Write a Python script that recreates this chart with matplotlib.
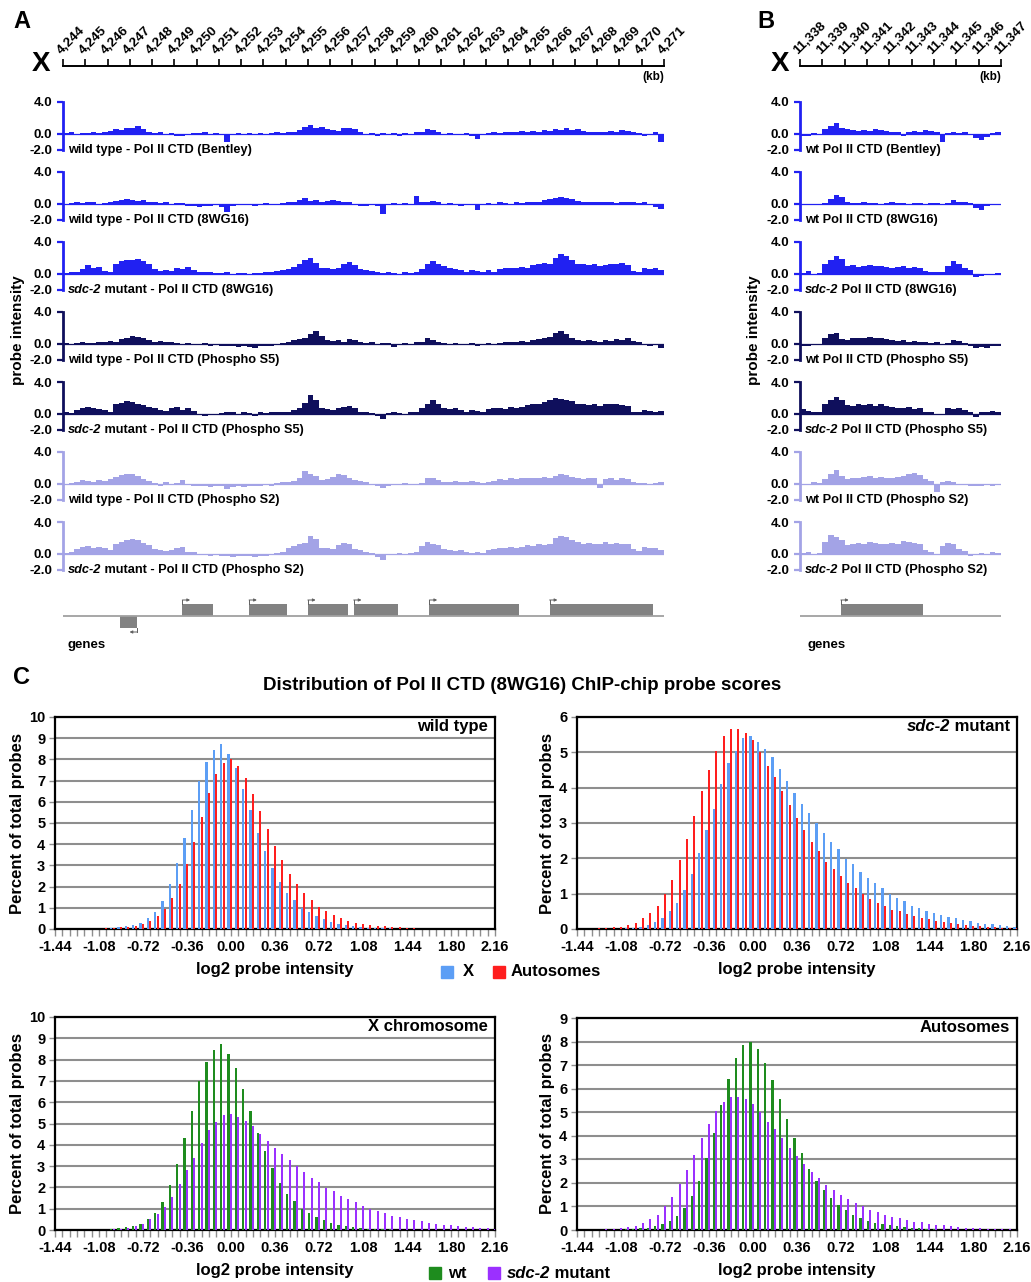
import numpy as np
import matplotlib
matplotlib.use("Agg")
import matplotlib.pyplot as plt
import matplotlib.transforms as mtransforms
from matplotlib.patches import Rectangle

# ---------------- data ----------------
# panel A : X chromosome 4,244 - 4,271 kb, one value per 0.25 kb
a_ticks = list(range(4244, 4272))
b_ticks = list(range(11338, 11348))
track_step = 0.25

a_wt_bentley = [0.1, 0.2, 0.0, 0.15, 0.1, 0.2, 0.1, 0.25,
                0.4, 0.6, 0.5, 0.8, 0.7, 1.0, 0.6,
                0.3, 0.1, 0.2, 0.0, 0.15, -0.2, -0.3, -0.1, 0.1,
                0.1, 0.2, -0.1, 0.1, 0.0, -1.0,
                -0.1, 0.1, 0.0, 0.15, -0.1, 0.1, 0.0, 0.1, 0.2, 0.1, 0.2, 0.3,
                0.5, 0.9, 1.1, 0.8, 0.9, 0.6, 0.5, 0.4, 0.7, 0.8, 0.6, 0.3,
                0.0, 0.1, -0.2, 0.1, 0.0, 0.15, -0.3, 0.1, 0.0, 0.2,
                0.3, 0.6, 0.5, 0.2,
                0.0, 0.1, -0.1, 0.0, 0.1, -0.3, -0.6, 0.0,
                0.1, 0.2, 0.1, 0.3, 0.2, 0.3, 0.4, 0.3, 0.4, 0.3,
                0.5, 0.4, 0.6, 0.5, 0.8, 0.5, 0.6, 0.4, 0.3, 0.2,
                0.3, 0.2, 0.4, 0.3, 0.5, 0.4, 0.3, 0.1,
                -0.3, -0.1, 0.2, -1.0]
a_wt_8wg16 = [0.0, 0.1, 0.2, 0.1, 0.3, 0.2, -0.1, 0.1,
              0.3, 0.4, 0.5, 0.6, 0.5, 0.4, 0.5, 0.3,
              0.2, 0.1, 0.2, 0.0, 0.1, 0.1,
              -0.2, -0.3, -0.4, -0.2, -0.3, -0.1, -0.4, -1.0,
              -0.2, -0.1, 0.0, -0.1, -0.2, 0.0, 0.1, -0.1, 0.0, 0.1,
              0.2, 0.3, 0.5, 0.7, 0.4, 0.5, 0.3, 0.4, 0.5, 0.4, 0.3, 0.2,
              0.0, -0.3, -0.2, -0.1, -0.2, -1.2, 0.0,
              0.1, 0.0, 0.1, 0.0, 1.0,
              0.3, 0.2, 0.4, 0.2, 0.0, 0.1,
              0.0, -0.2, 0.0, -0.1, -0.7, 0.0,
              0.1, 0.0, 0.2, 0.1, 0.0, 0.2, 0.1, 0.2, 0.3, 0.2,
              0.5, 0.6, 0.8, 0.9, 0.7, 0.6,
              0.4, 0.3, 0.2, 0.3, 0.2, 0.3, 0.2, 0.1, 0.3, 0.2, 0.3, 0.1, 0.2, 0.0,
              -0.4, -0.6]
a_sdc2_8wg16 = [0.1, 0.3, 0.2, 0.6, 1.1, 0.8, 0.9, 0.4, 0.3,
                1.3, 1.6, 1.7, 1.8, 1.9, 1.6, 1.3,
                0.6, 0.4, 0.5, 0.4, 0.8, 0.6, 0.9, 0.5,
                0.3, 0.2, 0.3, 0.1,
                0.1, 0.2, 0.0, 0.1, 0.1, 0.0, 0.1, 0.1,
                0.3, 0.2, 0.4, 0.5, 0.6,
                0.9, 1.3, 1.8, 2.0, 1.4,
                0.8, 0.7, 0.6, 0.8, 1.3, 1.5, 1.1, 0.6, 0.5, 0.4,
                0.2, 0.1, 0.2, 0.1, 0.0, 0.2, 0.1, 0.3,
                0.6, 1.2, 1.6, 1.3, 1.0, 0.7, 0.6, 0.5,
                0.3, 0.5, 0.4, 0.2, 0.5, 0.3,
                0.6, 0.7, 0.8, 0.7, 0.9, 0.8,
                1.1, 1.2, 1.4, 1.3, 2.0, 2.5, 2.3, 1.8,
                1.3, 1.2, 1.1, 1.2, 1.0, 1.1, 1.3, 1.2, 1.4, 1.1,
                0.4, 0.3, 0.8, 0.6, 0.7, 0.5]
a_wt_s5 = [0.1, 0.0, 0.1, 0.2, 0.1, 0.1,
           0.3, 0.2, 0.4, 0.3,
           0.6, 0.8, 1.0, 0.9, 0.7, 0.5,
           0.3, 0.4, 0.2, 0.3,
           0.1, 0.0, 0.1, -0.1, 0.0, 0.1, -0.2, 0.0,
           -0.2, -0.3, -0.2, -0.4, -0.3, -0.4, -0.5, -0.3, -0.2, -0.3, 0.0, 0.1,
           0.3, 0.5, 0.6, 0.8, 1.3, 1.6, 1.0,
           0.5, 0.4, 0.5, 0.3, 0.6, 0.5, 0.3,
           0.1, 0.2, 0.0, 0.1, 0.1, -0.4, 0.0, 0.1, 0.0, 0.2,
           0.3, 0.7, 0.5, 0.2,
           0.1, 0.0, 0.1, -0.1, 0.0, 0.1, -0.2, 0.0, 0.1, 0.0, 0.1, 0.2,
           0.3, 0.2, 0.4, 0.3, 0.5, 0.6, 0.7, 0.9,
           1.4, 1.6, 1.2, 0.8,
           0.5, 0.4, 0.5, 0.4, 0.3, 0.5, 0.4, 0.6, 0.5, 0.7, 0.4, 0.3,
           -0.1, -0.2, 0.0, -0.5]
a_sdc2_s5 = [0.2, 0.1, 0.5, 0.8, 0.9, 0.7, 0.6, 0.5, 0.3,
             1.2, 1.4, 1.6, 1.5, 1.3, 1.1, 0.9,
             0.8, 0.5, 0.4, 0.7, 0.9, 0.5, 0.8, 0.4,
             -0.1, -0.2, 0.0, -0.1,
             0.1, 0.3, 0.2, -0.1, 0.2, 0.1, -0.3, 0.2, 0.1, 0.2,
             0.2, 0.3, 0.3, 0.5,
             0.8, 1.4, 2.4, 1.8,
             0.8, 0.6, 0.5, 0.7, 0.9, 1.0, 0.8, 0.3, 0.2, 0.1,
             -0.3, -0.6, 0.1, 0.2, 0.1, 0.0, 0.2, 0.3,
             0.8, 1.3, 1.7, 1.2, 0.8, 0.6, 0.7, 0.5,
             0.3, 0.5, 0.4, 0.3,
             0.6, 0.7, 0.8, 0.6, 0.9, 0.7,
             0.9, 1.1, 1.3, 1.2,
             1.5, 1.7, 2.0, 1.9, 1.8, 1.6,
             1.3, 1.2, 1.1, 1.2, 1.0, 1.3, 1.2, 1.3, 1.1, 1.0,
             0.3, 0.2, 0.5, 0.4, 0.3, 0.4]
a_wt_s2 = [0.0, 0.1, 0.3, 0.5, 0.4, 0.3, 0.5, 0.4,
           0.6, 0.9, 1.1, 1.3, 1.2, 1.0, 0.6, 0.4,
           0.1, -0.2, 0.2, 0.0, 0.1, 0.5,
           -0.1, -0.2, -0.3, -0.2, -0.4, -0.3, -0.2, -0.6,
           -0.4, -0.3, -0.4, -0.2, -0.3, -0.2, -0.1, -0.2,
           0.1, 0.2, 0.3, 0.4,
           0.8, 1.6, 1.3, 1.0, 0.5, 0.6,
           0.9, 1.3, 1.1, 0.8, 0.5, 0.4, 0.2, 0.0,
           -0.3, -0.5, -0.2, -0.1,
           0.0, 0.1, 0.0, 0.0, 0.1, 0.7, 0.8, 0.5,
           0.3, 0.2, 0.4, 0.3, 0.2, 0.4, 0.3, 0.1, 0.3, 0.4,
           0.6, 0.5, 0.7, 0.6, 0.7, 0.8, 0.7, 0.8, 0.9, 0.8,
           1.0, 1.2, 1.1, 0.9,
           0.7, 0.6, 0.8, 0.7, -0.5, 0.6, 0.7, 0.5, 0.8, 0.6, 0.3, 0.1,
           0.1, 0.0, 0.1, 0.2]
a_sdc2_s2 = [0.1, 0.2, 0.6, 0.9, 1.0, 0.8, 0.9, 0.7, 0.5,
             1.2, 1.5, 1.8, 1.9, 1.7, 1.4, 1.1,
             0.6, 0.5, 0.4, 0.5, 0.8, 0.9, 0.3, 0.2,
             -0.1, 0.0, -0.2, -0.1,
             -0.2, -0.3, -0.4, -0.3, -0.2, -0.3, -0.4, -0.2, -0.3, -0.1,
             0.1, 0.2, 0.8, 1.0, 1.3, 1.4, 2.3, 1.9,
             0.8, 0.7, 0.6, 1.1, 1.4, 1.2,
             0.6, 0.5, 0.3, 0.1, -0.4, -0.8,
             0.0, -0.1, 0.1, 0.0, 0.1, 0.2,
             1.0, 1.5, 1.3, 1.1, 0.6, 0.5, 0.4, 0.5,
             0.2, 0.1, 0.3, 0.1,
             0.5, 0.6, 0.8, 0.7, 0.9, 0.8,
             0.9, 1.1, 1.0, 1.2, 1.1, 1.3,
             2.0, 2.3, 2.1, 1.8,
             1.5, 1.3, 1.4, 1.2, 1.3, 1.5, 1.2, 1.4, 1.3, 1.2,
             0.6, 0.4, 0.9, 0.7, 0.8, 0.5]

# panel B : X chromosome 11,338 - 11,347 kb
b_wt_bentley = [-0.2, -0.3, 0.1, 0.0, 0.6, 1.0, 1.4, 0.8, 0.6, 0.5, 0.4, 0.5,
                0.4, 0.6, 0.5, 0.4, 0.3, 0.2, -0.2, 0.3, 0.4, 0.3, 0.5, 0.4,
                0.2, -1.0, 0.1, 0.2, 0.1, 0.2, 0.0, -0.5, -0.8, -0.4, 0.1, 0.3]
b_wt_8wg16 = [0.0, -0.1, -0.1, 0.0, 0.1, 0.6, 1.1, 0.9,
              0.2, 0.1, 0.1, 0.2, 0.1, 0.1, 0.0, 0.1, 0.2, 0.1, 0.1, 0.0,
              0.1, 0.1, 0.0, 0.1, 0.1, 0.0, 0.1, 0.5, 0.3, 0.2, 0.1,
              -0.5, -0.7, -0.3, -0.1, 0.0]
b_sdc2_8wg16 = [0.1, 0.4, 0.0, 0.1, 1.2, 1.8, 2.2, 1.9,
                1.0, 1.1, 0.9, 1.0, 1.1, 1.0, 1.0, 0.9, 0.8, 0.9, 1.0, 0.8,
                0.9, 0.7, 0.4, 0.3, 0.2, 0.3, 1.0, 1.6, 1.2, 0.7, 0.5,
                -0.4, -0.2, 0.0, -0.1, 0.1]
b_wt_s5 = [-0.2, -0.3, -0.1, 0.0, 0.8, 1.2, 1.4, 0.6, 0.5,
           0.7, 0.8, 0.7, 0.9, 0.8, 0.7, 0.6, 0.5, 0.4, 0.5, 0.3, 0.4, 0.3,
           0.2, 0.1, 0.2, -0.1, 0.1, 0.5, 0.4,
           0.1, -0.3, -0.5, -0.4, -0.5, -0.3, -0.2]
b_sdc2_s5 = [0.6, 0.4, 0.3, 0.2, 1.2, 1.7, 2.1, 1.8,
             1.1, 1.0, 1.2, 1.1, 1.3, 1.0, 1.2, 1.0, 0.9, 0.8, 0.7, 0.9, 0.6, 0.7,
             0.3, 0.2, -0.1, 0.0, 0.8, 0.6, 0.7, 0.5, 0.2, -0.4,
             0.3, 0.2, 0.4, 0.3]
b_wt_s2 = [-0.1, 0.0, 0.2, 0.1, 0.6, 1.2, 1.8, 1.0,
           0.6, 0.7, 0.8, 0.9, 1.0, 0.8, 0.9, 0.7, 0.8, 0.9, 1.0, 1.2, 1.4, 1.1,
           0.6, 0.4, -1.0, 0.2, 0.4, 0.3,
           0.0, -0.1, -0.2, -0.3, -0.2, -0.1, -0.2, -0.1]
b_sdc2_s2 = [0.1, 0.2, 0.0, 0.1, 1.5, 2.4, 2.1, 1.7,
             1.1, 1.2, 1.4, 1.3, 1.5, 1.4, 1.3, 1.2, 1.4, 1.3, 1.6, 1.5, 1.4, 1.2,
             0.5, 0.3, 0.0, 1.0, 1.4, 1.2, 0.6, 0.4, -0.2, -0.1,
             0.1, 0.0, 0.2, 0.1]

a_labels = [[("wild type - Pol II CTD (Bentley)", "normal")],
            [("wild type - Pol II CTD (8WG16)", "normal")],
            [("sdc-2", "italic"), (" mutant - Pol II CTD (8WG16)", "normal")],
            [("wild type - Pol II CTD (Phospho S5)", "normal")],
            [("sdc-2", "italic"), (" mutant - Pol II CTD (Phospho S5)", "normal")],
            [("wild type - Pol II CTD (Phospho S2)", "normal")],
            [("sdc-2", "italic"), (" mutant - Pol II CTD (Phospho S2)", "normal")]]
b_labels = [[("wt Pol II CTD (Bentley)", "normal")],
            [("wt Pol II CTD (8WG16)", "normal")],
            [("sdc-2", "italic"), (" Pol II CTD (8WG16)", "normal")],
            [("wt Pol II CTD (Phospho S5)", "normal")],
            [("sdc-2", "italic"), (" Pol II CTD (Phospho S5)", "normal")],
            [("wt Pol II CTD (Phospho S2)", "normal")],
            [("sdc-2", "italic"), (" Pol II CTD (Phospho S2)", "normal")]]

a_genes_fwd = [(4249.36, 4250.74), (4252.36, 4254.08), (4255.0, 4256.8),
               (4257.06, 4259.06), (4260.46, 4264.5), (4265.86, 4270.5)]
a_genes_rev = [(4246.56, 4247.34)]
b_genes_fwd = [(11339.83, 11343.49)]
b_genes_rev = []

# panel C : percent of probes per 0.06 bin of log2 intensity, bins from -1.44 to 2.16
hist_ticks = ["-1.44", "-1.08", "-0.72", "-0.36", "0.00", "0.36",
              "0.72", "1.08", "1.44", "1.80", "2.16"]
x_wt = [0, 0, 0, 0, 0, 0.01, 0.02, 0.05, 0.1, 0.15, 0.2, 0.3, 0.5, 0.8, 1.3,
        2.1, 3.1, 4.3, 5.6, 7.0, 7.9, 8.45, 8.75, 8.25, 7.6, 6.6, 5.6, 4.55, 3.7, 2.9,
        2.2, 1.7, 1.35, 1.0, 0.8, 0.6, 0.45, 0.35, 0.25, 0.2, 0.15, 0.1, 0.07, 0.05, 0.04,
        0.03, 0.02, 0.02, 0.01, 0.01, 0.01, 0.01, 0.01, 0, 0, 0, 0, 0, 0, 0]
a_wt = [0, 0, 0, 0, 0.01, 0.02, 0.03, 0.05, 0.08, 0.1, 0.15, 0.25, 0.4, 0.6, 0.95,
        1.45, 2.1, 3.05, 4.1, 5.3, 6.4, 7.3, 7.85, 8.0, 7.7, 7.1, 6.35, 5.55, 4.7, 3.9,
        3.25, 2.6, 2.1, 1.7, 1.35, 1.05, 0.85, 0.65, 0.5, 0.4, 0.3, 0.25, 0.2, 0.15, 0.12,
        0.1, 0.08, 0.05, 0.03, 0.02, 0.02, 0.01, 0.01, 0.01, 0.01, 0.01, 0.01, 0.01, 0.01, 0.01]
x_sdc2 = [0, 0, 0, 0, 0.01, 0.01, 0.02, 0.04, 0.07, 0.1, 0.2, 0.3, 0.5, 0.75, 1.1,
          1.55, 2.15, 2.8, 3.4, 4.1, 4.7, 5.05, 5.4, 5.45, 5.3, 5.1, 4.87, 4.52, 4.19, 3.85,
          3.55, 3.27, 3.0, 2.72, 2.45, 2.27, 1.98, 1.83, 1.6, 1.45, 1.3, 1.15, 1.0, 0.87, 0.8,
          0.66, 0.6, 0.52, 0.45, 0.4, 0.33, 0.3, 0.25, 0.22, 0.18, 0.15, 0.13, 0.1, 0.08, 0.07]
a_sdc2 = [0.01, 0.01, 0.02, 0.03, 0.05, 0.07, 0.12, 0.18, 0.3, 0.45, 0.65, 1.0, 1.4, 1.95, 2.55,
          3.2, 3.9, 4.5, 5.05, 5.45, 5.65, 5.65, 5.55, 5.35, 5.0, 4.6, 4.3, 3.9, 3.5, 3.15,
          2.8, 2.45, 2.2, 1.9, 1.7, 1.5, 1.3, 1.15, 1.0, 0.85, 0.75, 0.65, 0.55, 0.5, 0.42,
          0.36, 0.32, 0.27, 0.23, 0.2, 0.16, 0.13, 0.1, 0.09, 0.08, 0.06, 0.05, 0.04, 0.03, 0.02]

# ---------------- style ----------------
W, H = 1031, 1282
plt.rcParams['font.family'] = ['Liberation Sans', 'DejaVu Sans']
plt.rcParams['font.weight'] = 'bold'
plt.rcParams['axes.labelweight'] = 'bold'

c_pol = '#2121f2'
c_s5 = '#0f0f5c'
c_s2 = '#a3a3e6'
a_colors = [c_pol, c_pol, c_pol, c_s5, c_s5, c_s2, c_s2]
c_x, c_a = '#5c9ef5', '#ff1e1e'
c_wt, c_mut = '#1e8c1e', '#9b30ff'

fig = plt.figure(figsize=(W / 100, H / 100), dpi=100)
# calque transparent sur toute la figure pour les textes libres
over = fig.add_axes([0, 0, 1, 1], zorder=10)
over.axis('off')
over.set_xlim(0, 1)
over.set_ylim(0, 1)


def px_axes(x0, y0, x1, y1):
    return fig.add_axes([x0 / W, 1 - y1 / H, (x1 - x0) / W, (y1 - y0) / H])


def rich_text(ax, x, y, parts, transform, ha='left', va='center', **kw):
    # texte en plusieurs morceaux (italique pour sdc-2)
    if ha == 'left':
        t = ax.text(x, y, parts[0][0], transform=transform, style=parts[0][1],
                    ha='left', va=va, **kw)
        for s, st in parts[1:]:
            t = ax.annotate(s, xy=(1, 0), xycoords=t, ha='left', va='bottom', style=st, **kw)
    else:
        t = ax.text(x, y, parts[-1][0], transform=transform, style=parts[-1][1],
                    ha='right', va=va, **kw)
        for s, st in parts[-2::-1]:
            t = ax.annotate(s, xy=(0, 0), xycoords=t, ha='right', va='bottom', style=st, **kw)
    return t


def draw_ruler(x0, x1, y, ticks):
    ax = px_axes(x0, y - 1, x1, y)
    ax.set_xlim(ticks[0], ticks[-1])
    ax.set_ylim(0, 1)
    for s in ['top', 'right', 'left']:
        ax.spines[s].set_visible(False)
    ax.spines['bottom'].set_linewidth(1.4)
    ax.set_yticks([])
    ax.set_xticks(ticks)
    ax.tick_params(axis='x', direction='in', length=5, width=1.2, labelbottom=False)
    tr = mtransforms.blended_transform_factory(ax.transData, ax.transAxes)
    tr = tr + mtransforms.ScaledTranslation(0.0, 0.085, fig.dpi_scale_trans)
    for v in ticks:
        ax.text(v, 1, f"{v:,}", transform=tr, rotation=45, rotation_mode='anchor',
                ha='left', va='bottom', fontsize=9.6)
    ax.text(1.0, -11, "(kb)", transform=ax.transAxes, ha='right', va='center', fontsize=8.5)
    return ax


def draw_track(x0, x1, top, xlim, vals, color, parts):
    ax = px_axes(x0, top, x1, top + 48)
    xs = xlim[0] + track_step * np.arange(len(vals))
    ax.bar(xs, vals, width=track_step, align='edge', color=color, linewidth=0)
    ax.axhline(0, color=color, lw=0.9)
    ax.set_xlim(*xlim)
    ax.set_ylim(-2, 4)
    for s in ['top', 'right', 'bottom']:
        ax.spines[s].set_visible(False)
    ax.spines['left'].set_color(color)
    ax.spines['left'].set_linewidth(2)
    ax.set_xticks([])
    ax.set_yticks([-2, 0, 4])
    ax.set_yticklabels(['-2.0', '0.0', '4.0'])
    ax.tick_params(axis='y', colors=color, labelcolor='black', length=4, width=1.6,
                   labelsize=9.5, pad=4)
    tr = ax.transAxes + mtransforms.ScaledTranslation(0.05, 0, fig.dpi_scale_trans)
    rich_text(ax, 0.0, 0.0, parts, tr, fontsize=9.2)
    return ax


def draw_genes(x0, x1, line_y, xlim, fwd, rev):
    ax = px_axes(x0, line_y - 20, x1, line_y + 20)
    ax.set_xlim(*xlim)
    ax.set_ylim(-20, 20)
    ax.axis('off')
    ax.plot(xlim, [0, 0], color='#a0a0a0', lw=1.3)
    head = dict(arrowstyle='-|>', color='#606060', lw=0.7, mutation_scale=4,
                shrinkA=0, shrinkB=0)
    for s, e in fwd:
        ax.add_patch(Rectangle((s, 0), e - s, 12, color='#828282', lw=0))
        ax.plot([s, s], [12, 16], color='#606060', lw=0.7)
        ax.annotate('', xy=(s + 0.35, 16), xytext=(s, 16), arrowprops=head)
    for s, e in rev:
        ax.add_patch(Rectangle((s, -12), e - s, 12, color='#828282', lw=0))
        ax.plot([e, e], [-12, -16], color='#606060', lw=0.7)
        ax.annotate('', xy=(e - 0.35, -16), xytext=(e, -16), arrowprops=head)
    return ax


def draw_hist(rect, s1, s2, c1, c2, ymax, tag):
    ax = px_axes(*rect)
    left = -1.44 + 0.06 * np.arange(len(s1))
    ax.bar(left + 0.04, s1, width=0.019, color=c1, linewidth=0, zorder=3)
    ax.bar(left + 0.06, s2, width=0.019, color=c2, linewidth=0, zorder=3)
    ax.set_xlim(-1.44, 2.16)
    ax.set_ylim(0, ymax)
    ax.set_xticks([float(t) for t in hist_ticks])
    ax.set_xticklabels(hist_ticks)
    ax.set_xticks(-1.44 + 0.06 * np.arange(61), minor=True)
    ax.set_yticks(range(ymax + 1))
    ax.yaxis.grid(True, color='#8e8e8e', lw=1.5, zorder=0)
    ax.set_axisbelow(True)
    for s in ax.spines.values():
        s.set_linewidth(1.6)
    ax.tick_params(axis='x', which='both', direction='out', length=5, width=1,
                   color='#8e8e8e', labelsize=10.5, pad=3)
    ax.tick_params(axis='y', direction='out', length=4, width=1, color='#8e8e8e',
                   labelsize=10.5, pad=3)
    ax.set_xlabel('log2 probe intensity', fontsize=12, labelpad=6)
    ax.set_ylabel('Percent of total probes', fontsize=12, labelpad=3)
    rich_text(ax, 0.984, 1 - 9.5 / (rect[3] - rect[1]), tag, ax.transAxes,
              ha='right', va='center', fontsize=12)
    return ax


def legend_item(x, y, color, parts, gap=20):
    over.add_patch(Rectangle((x / W, 1 - (y + 6) / H), 12 / W, 12 / H,
                             transform=over.transAxes, color=color))
    rich_text(over, (x + gap) / W, 1 - y / H, parts, over.transAxes, fontsize=12)


# ---------------- panel A ----------------
over.text(22 / W, 1 - 22 / H, 'A', fontsize=17, ha='center', va='center')
over.text(41 / W, 1 - 64 / H, 'X', fontsize=20, ha='center', va='center')
draw_ruler(63, 664, 66, a_ticks)
a_tracks = [a_wt_bentley, a_wt_8wg16, a_sdc2_8wg16, a_wt_s5, a_sdc2_s5, a_wt_s2, a_sdc2_s2]
for i, vals in enumerate(a_tracks):
    draw_track(63, 664, 102 + 70 * i, (a_ticks[0], a_ticks[-1]), vals, a_colors[i], a_labels[i])
draw_genes(63, 664, 616, (a_ticks[0], a_ticks[-1]), a_genes_fwd, a_genes_rev)
over.text(67 / W, 1 - 645 / H, 'genes', fontsize=9.5, ha='left', va='center')
over.text(18 / W, 1 - 330 / H, 'probe intensity', rotation=90, fontsize=11,
          ha='center', va='center')

# ---------------- panel B ----------------
over.text(766 / W, 1 - 22 / H, 'B', fontsize=17, ha='center', va='center')
over.text(780 / W, 1 - 64 / H, 'X', fontsize=20, ha='center', va='center')
draw_ruler(800, 1001, 66, b_ticks)
b_tracks = [b_wt_bentley, b_wt_8wg16, b_sdc2_8wg16, b_wt_s5, b_sdc2_s5, b_wt_s2, b_sdc2_s2]
for i, vals in enumerate(b_tracks):
    draw_track(800, 1001, 102 + 70 * i, (b_ticks[0], b_ticks[-1]), vals, a_colors[i], b_labels[i])
draw_genes(800, 1001, 616, (b_ticks[0], b_ticks[-1]), b_genes_fwd, b_genes_rev)
over.text(808 / W, 1 - 645 / H, 'genes', fontsize=9.5, ha='left', va='center')
over.text(754 / W, 1 - 330 / H, 'probe intensity', rotation=90, fontsize=11,
          ha='center', va='center')

# ---------------- panel C ----------------
over.text(22 / W, 1 - 677 / H, 'C', fontsize=17, ha='center', va='center')
over.text(522 / W, 1 - 686 / H, 'Distribution of Pol II CTD (8WG16) ChIP-chip probe scores',
          fontsize=13.5, ha='center', va='center')

draw_hist((55, 717, 495, 929), x_wt, a_wt, c_x, c_a, 10, [("wild type", "normal")])
draw_hist((577, 717, 1017, 929), x_sdc2, a_sdc2, c_x, c_a, 6,
          [("sdc-2", "italic"), (" mutant", "normal")])
draw_hist((55, 1017, 495, 1230), x_wt, x_sdc2, c_wt, c_mut, 10, [("X chromosome", "normal")])
draw_hist((577, 1018, 1017, 1230), a_wt, a_sdc2, c_wt, c_mut, 9, [("Autosomes", "normal")])

legend_item(441, 972, c_x, [("X", "normal")], gap=22)
legend_item(493, 972, c_a, [("Autosomes", "normal")], gap=18)
legend_item(429, 1273, c_wt, [("wt", "normal")], gap=19)
legend_item(488, 1273, c_mut, [("sdc-2", "italic"), (" mutant", "normal")], gap=19)

fig.savefig('out.png', dpi=100)
